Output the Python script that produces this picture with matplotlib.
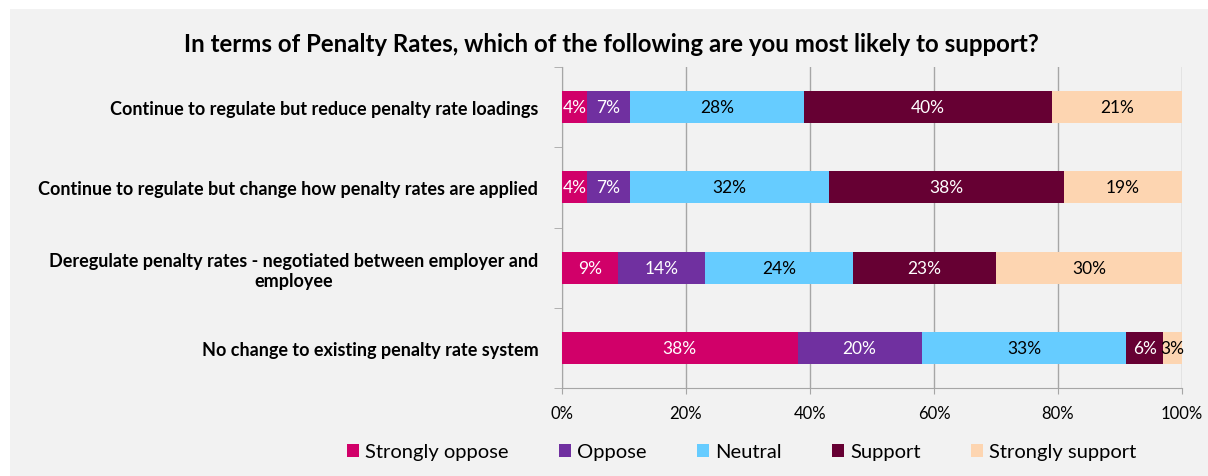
import matplotlib.pyplot as plt
import matplotlib.patches as mpatches
import numpy as np

# survey responses, percentage of respondents per option
options = ["Continue to regulate but reduce penalty rate loadings",
           "Continue to regulate but change how penalty rates are applied",
           "Deregulate penalty rates - negotiated between employer and\nemployee",
           "No change to existing penalty rate system"]
responses = ["Strongly oppose", "Oppose", "Neutral", "Support", "Strongly support"]
strongly_oppose = [4, 4, 9, 38]
oppose = [7, 7, 14, 20]
neutral = [28, 32, 24, 33]
support = [40, 38, 23, 6]
strongly_support = [21, 19, 30, 3]

colors = ["#d10069", "#7030a0", "#66ccff", "#660033", "#fdd5b1"]
text_colors = ["white", "white", "black", "white", "black"]

plt.rcParams['font.family'] = ['Lato', 'DejaVu Sans']

fig = plt.figure(figsize=(12.08, 4.77), dpi=100)
fig.patch.set_facecolor("white")
# grey panel behind the chart
fig.patches.append(mpatches.Rectangle((10 / 1208, 0), 1 - 10 / 1208, 1 - 10 / 477,
                                      transform=fig.transFigure, facecolor="#f2f2f2",
                                      edgecolor="none", zorder=-1))

ax = fig.add_axes([0.4652, 0.1845, 0.5133, 0.6729])
ax.set_facecolor("#f2f2f2")

y = np.arange(len(options))
series = [strongly_oppose, oppose, neutral, support, strongly_support]
left = np.zeros(len(options))
for name, vals, c, tc in zip(responses, series, colors, text_colors):
    vals = np.array(vals, dtype=float)
    bars = ax.barh(y, vals, left=left, height=0.4, color=c, label=name, zorder=3)
    for b, v in zip(bars, vals):
        ax.text(b.get_x() + b.get_width() / 2, b.get_y() + b.get_height() / 2,
                "%d%%" % v, ha="center", va="center", color=tc, fontsize=12.5, zorder=4)
    left += vals

ax.set_xlim(0, 100)
ax.set_ylim(len(options) - 0.5, -0.5)
ax.set_xticks(np.arange(0, 101, 20))
ax.set_xticklabels(["%d%%" % v for v in range(0, 101, 20)], fontsize=12)
ax.xaxis.grid(True, color="#a6a6a6", linewidth=1, zorder=0)
ax.tick_params(axis="x", length=4, color="#a6a6a6", pad=8)

# category labels sit between minor ticks at the band edges
ax.set_yticks(y)
ax.set_yticklabels(options, fontsize=13, fontweight="bold", multialignment="center")
ax.tick_params(axis="y", which="major", length=0, pad=17)
ax.set_yticks(np.arange(-0.5, len(options), 1), minor=True)
ax.tick_params(axis="y", which="minor", length=6, color="#a6a6a6")

for s in ["top", "right"]:
    ax.spines[s].set_visible(False)
for s in ["left", "bottom"]:
    ax.spines[s].set_color("#a6a6a6")

fig.text(0.506, 1 - 44 / 477, "In terms of Penalty Rates, which of the following are you most likely to support?",
         ha="center", va="center", fontsize=17.3, fontweight="bold")

fig.legend(loc="center", bbox_to_anchor=(0.614, 1 - 453 / 477), ncol=5, frameon=False,
           fontsize=14.5, handlelength=0.6, handleheight=0.6, handletextpad=0.3,
           columnspacing=2.5)

fig.savefig("out.png", dpi=100, facecolor=fig.get_facecolor())
